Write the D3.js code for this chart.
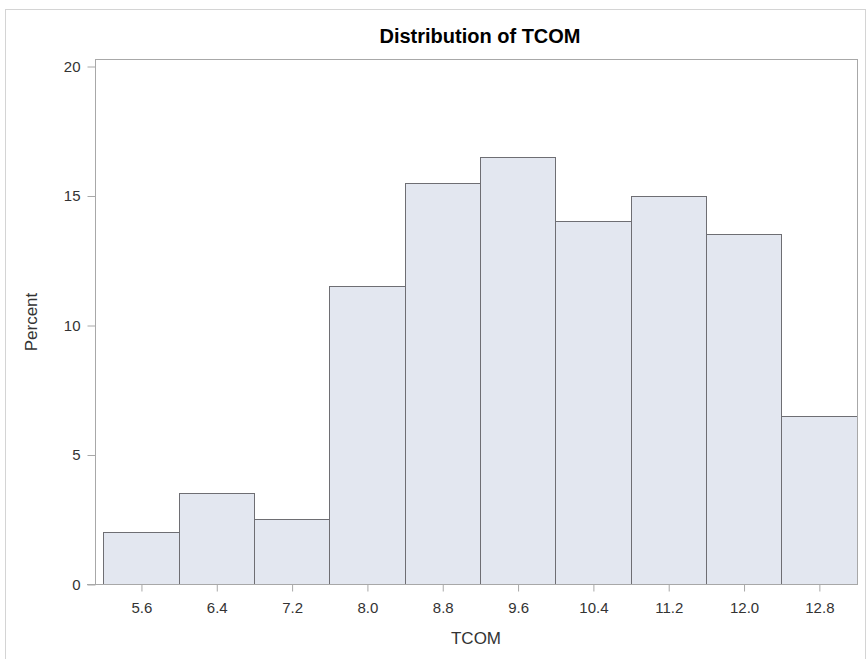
<!DOCTYPE html>
<html>
<head>
<meta charset="utf-8">
<script src="https://cdn.jsdelivr.net/npm/d3@7/dist/d3.min.js"></script>
<style>
  html, body { margin: 0; padding: 0; background: #fff; }
  svg { display: block; font-family: Arial, "Liberation Sans", sans-serif; }
</style>
</head>
<body>
<svg id="chart" width="867" height="659"></svg>
<script>
// Histogram of TCOM: bin midpoints and percent of observations per bin
const binMidpoints = [5.6, 6.4, 7.2, 8.0, 8.8, 9.6, 10.4, 11.2, 12.0, 12.8];
const percentValues = [2.0, 3.5, 2.5, 11.5, 15.5, 16.5, 14.0, 15.0, 13.5, 6.5];
const binWidth = 0.8;
const xTickLabels = ["5.6", "6.4", "7.2", "8.0", "8.8", "9.6", "10.4", "11.2", "12.0", "12.8"];
const yTickValues = [0, 5, 10, 15, 20];

const FONT = "Arial, 'Liberation Sans', sans-serif";
const svg = d3.select("#chart");

// outer graph border
svg.append("rect")
  .attr("x", 5.5).attr("y", 9.5)
  .attr("width", 860).attr("height", 700)
  .attr("fill", "none").attr("stroke", "#d4d4d4").attr("stroke-width", 1);

const plot = { left: 95, right: 857, top: 59, bottom: 584 };

const x = d3.scaleLinear()
  .domain([5.112, 13.205])
  .range([plot.left, plot.right]);

const y = d3.scaleLinear()
  .domain([0, 20])
  .range([plot.bottom, 66]);

// bars
svg.append("g")
  .selectAll("rect")
  .data(binMidpoints.map((m, i) => ({ m, v: percentValues[i] })))
  .join("rect")
  .attr("x", d => Math.round(x(d.m - binWidth / 2)) + 0.5)
  .attr("y", d => Math.round(y(d.v)) + 0.5)
  .attr("width", d => Math.round(x(d.m + binWidth / 2)) - Math.round(x(d.m - binWidth / 2)))
  .attr("height", d => Math.round(y(0)) - Math.round(y(d.v)))
  .attr("fill", "#e3e7f0")
  .attr("stroke", "#6e6e73")
  .attr("stroke-width", 1);

// plot frame
svg.append("rect")
  .attr("x", plot.left + 0.5).attr("y", plot.top + 0.5)
  .attr("width", plot.right - plot.left).attr("height", plot.bottom - plot.top)
  .attr("fill", "none").attr("stroke", "#a8a8a8").attr("stroke-width", 1);

// y axis
const yAxis = d3.axisLeft(y)
  .tickValues(yTickValues)
  .tickSize(8)
  .tickPadding(7)
  .tickFormat(d3.format("d"));

const gy = svg.append("g")
  .attr("transform", `translate(${plot.left + 0.5},0.5)`)
  .attr("font-size", null)
  .call(yAxis);
gy.select(".domain").remove();
gy.selectAll(".tick line").attr("stroke", "#a8a8a8");
gy.selectAll(".tick text")
  .attr("fill", "#333")
  .style("font-size", "15px")
  .style("font-family", FONT);

// x axis
const xAxis = d3.axisBottom(x)
  .tickValues(binMidpoints)
  .tickSize(7)
  .tickPadding(11)
  .tickFormat((d, i) => xTickLabels[i]);

const gx = svg.append("g")
  .attr("transform", `translate(0.5,${plot.bottom + 0.5})`)
  .call(xAxis);
gx.select(".domain").remove();
gx.selectAll(".tick line").attr("stroke", "#a8a8a8");
gx.selectAll(".tick text")
  .attr("fill", "#333")
  .style("font-size", "15px")
  .style("font-family", FONT);

// bottom axis line extends to meet the zero tick
svg.append("line")
  .attr("x1", 87).attr("x2", plot.right + 0.5)
  .attr("y1", plot.bottom + 0.5).attr("y2", plot.bottom + 0.5)
  .attr("stroke", "#a8a8a8");

// titles
svg.append("text")
  .attr("x", 480).attr("y", 43)
  .attr("text-anchor", "middle")
  .attr("fill", "#000")
  .style("font-family", FONT)
  .style("font-size", "20px")
  .style("font-weight", "bold")
  .text("Distribution of TCOM");

svg.append("text")
  .attr("x", 476).attr("y", 644)
  .attr("text-anchor", "middle")
  .attr("fill", "#333")
  .style("font-family", FONT)
  .style("font-size", "17px")
  .text("TCOM");

svg.append("text")
  .attr("transform", `translate(37,322) rotate(-90)`)
  .attr("text-anchor", "middle")
  .attr("fill", "#333")
  .style("font-family", FONT)
  .style("font-size", "17px")
  .text("Percent");
</script>
</body>
</html>
